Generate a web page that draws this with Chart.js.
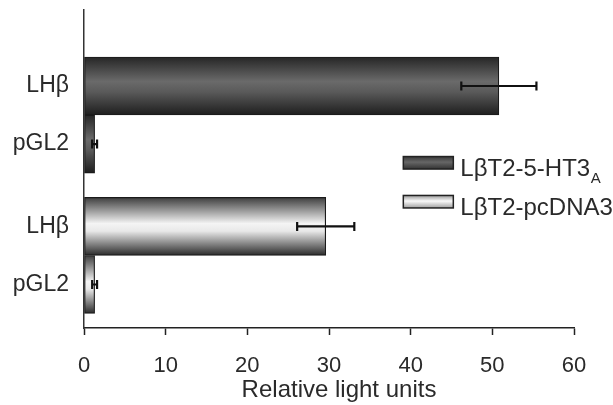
<!DOCTYPE html>
<html>
<head>
<meta charset="utf-8">
<script src="https://cdn.jsdelivr.net/npm/chart.js@4/dist/chart.umd.min.js"></script>
<style>
  html, body { margin: 0; padding: 0; background: #ffffff; }
  canvas { display: block; }
</style>
</head>
<body>
<canvas id="c" width="613" height="405"></canvas>
<script>
// ---- data ----
const categories   = ['LHβ', 'pGL2', 'LHβ', 'pGL2'];
const seriesNames  = ['LβT2-5-HT3', 'LβT2-pcDNA3'];
const seriesSubs   = ['A', ''];
const darkValues   = [50.8, 1.3];   // LβT2-5-HT3A : LHβ, pGL2
const darkErrors   = [4.6, 0.3];
const lightValues  = [29.6, 1.3];   // LβT2-pcDNA3 : LHβ, pGL2
const lightErrors  = [3.5, 0.3];
const xAxisTitle   = 'Relative light units';

// ---- layout helpers (not data) ----
const groupGap = 0.42;
const rowPos = categories.map((_, i) => i + (i >= 2 ? groupGap : 0));
const FONT = "'Liberation Sans', Arial, Helvetica, sans-serif";
const TEXT = '#2a2a2a';

function barGradient(ctx, kind) {
  const fallback = kind === 'dark' ? '#555' : '#ddd';
  const chart = ctx.chart;
  const ys = chart.scales && chart.scales.y;
  if (!ys || !ctx.parsed) return fallback;
  const c = ys.getPixelForValue(ctx.parsed.y);
  const half = Math.abs(ys.getPixelForValue(1) - ys.getPixelForValue(0)) / 2;
  if (!isFinite(c) || !isFinite(half) || half <= 0) return fallback;
  const g = chart.ctx.createLinearGradient(0, c - half, 0, c + half);
  if (kind === 'dark') {
    g.addColorStop(0, '#262626');
    g.addColorStop(0.42, '#6a6a6a');
    g.addColorStop(0.6, '#5a5a5a');
    g.addColorStop(1, '#1e1e1e');
  } else {
    g.addColorStop(0, '#3e3e3e');
    g.addColorStop(0.45, '#f4f4f4');
    g.addColorStop(0.58, '#e8e8e8');
    g.addColorStop(1, '#2a2a2a');
  }
  return g;
}

const errorBars = {
  id: 'errorBars',
  afterDatasetsDraw(chart) {
    const ctx = chart.ctx;
    const xs = chart.scales.x, ys = chart.scales.y;
    ctx.save();
    ctx.strokeStyle = '#111';
    ctx.lineWidth = 2.2;
    chart.data.datasets.forEach(ds => {
      ds.data.forEach((pt, i) => {
        const e = ds.errors[i];
        const y = ys.getPixelForValue(pt.y);
        const x1 = xs.getPixelForValue(pt.x - e);
        const x2 = xs.getPixelForValue(pt.x + e);
        const cap = 4.5;
        ctx.beginPath();
        ctx.moveTo(x1, y); ctx.lineTo(x2, y);
        ctx.moveTo(x1, y - cap); ctx.lineTo(x1, y + cap);
        ctx.moveTo(x2, y - cap); ctx.lineTo(x2, y + cap);
        ctx.stroke();
      });
    });
    ctx.restore();
  }
};

const axisTitle = {
  id: 'axisTitle',
  afterDraw(chart) {
    const ctx = chart.ctx;
    const xs = chart.scales.x;
    ctx.save();
    ctx.fillStyle = TEXT;
    ctx.font = '24px ' + FONT;
    ctx.textAlign = 'center';
    ctx.textBaseline = 'middle';
    ctx.fillText(xAxisTitle, (xs.left + xs.right) / 2 + 10, 390);
    ctx.restore();
  }
};

const insideLegend = {
  id: 'insideLegend',
  afterDraw(chart) {
    const ctx = chart.ctx;
    const xs = chart.scales.x;
    const boxX = xs.getPixelForValue(39.1);
    const boxW = 50, boxH = 12.5;
    const rows = [162.8, 201.7];
    ctx.save();
    chart.data.datasets.forEach((ds, i) => {
      const cy = rows[i];
      const g = ctx.createLinearGradient(0, cy - boxH / 2, 0, cy + boxH / 2);
      if (i === 0) {
        g.addColorStop(0, '#3a3a3a'); g.addColorStop(0.45, '#666'); g.addColorStop(1, '#333');
      } else {
        g.addColorStop(0, '#9a9a9a'); g.addColorStop(0.45, '#fafafa'); g.addColorStop(1, '#a0a0a0');
      }
      ctx.fillStyle = g;
      ctx.fillRect(boxX, cy - boxH / 2, boxW, boxH);
      ctx.strokeStyle = '#222';
      ctx.lineWidth = 1.5;
      ctx.strokeRect(boxX, cy - boxH / 2, boxW, boxH);
      ctx.fillStyle = TEXT;
      ctx.textBaseline = 'alphabetic';
      ctx.textAlign = 'left';
      ctx.font = '24px ' + FONT;
      const tx = boxX + boxW + 7;
      const ty = cy + 13.2;
      ctx.fillText(ds.label, tx, ty);
      if (ds.sub) {
        const w = ctx.measureText(ds.label).width;
        ctx.font = '15px ' + FONT;
        ctx.fillText(ds.sub, tx + w + 0.5, ty + 6.5);
      }
    });
    ctx.restore();
  }
};

function noScalePadding(s) {
  s.paddingTop = 0; s.paddingBottom = 0; s.paddingLeft = 0; s.paddingRight = 0;
}

new Chart(document.getElementById('c'), {
  type: 'bar',
  data: {
    datasets: [
      {
        label: seriesNames[0],
        sub: seriesSubs[0],
        data: darkValues.map((v, i) => ({ x: v, y: rowPos[i] })),
        errors: darkErrors,
        backgroundColor: ctx => barGradient(ctx, 'dark'),
        borderColor: '#1a1a1a',
        borderWidth: 1.2,
        borderSkipped: false
      },
      {
        label: seriesNames[1],
        sub: seriesSubs[1],
        data: lightValues.map((v, i) => ({ x: v, y: rowPos[i + 2] })),
        errors: lightErrors,
        backgroundColor: ctx => barGradient(ctx, 'light'),
        borderColor: '#1a1a1a',
        borderWidth: 1.2,
        borderSkipped: false
      }
    ]
  },
  options: {
    indexAxis: 'y',
    responsive: false,
    devicePixelRatio: 1,
    animation: false,
    events: [],
    grouped: false,
    barPercentage: 1,
    categoryPercentage: 1,
    layout: { padding: { top: 10, right: 39, left: 0, bottom: 0 } },
    plugins: {
      legend: { display: false },
      tooltip: { enabled: false }
    },
    scales: {
      x: {
        type: 'linear',
        min: 0, max: 60,
        offset: false,
        ticks: { stepSize: 10, color: TEXT, font: { family: FONT, size: 22 }, padding: 18 },
        grid: { offset: false, drawOnChartArea: false, drawTicks: true, tickLength: 7, tickColor: '#222', tickWidth: 1.5 },
        border: { display: true, color: '#222', width: 1.5 },
        title: { display: false },
        afterFit: s => { s.height = 77; noScalePadding(s); }
      },
      y: {
        type: 'linear',
        reverse: true,
        offset: false,
        min: -1.31, max: 4.17,
        afterBuildTicks: s => { s.ticks = rowPos.map(v => ({ value: v })); },
        ticks: { callback: (v, i) => categories[i], color: TEXT, font: { family: FONT, size: 23 }, padding: 15, autoSkip: false },
        grid: { offset: false, display: true, drawOnChartArea: false, drawTicks: false },
        border: { display: true, color: '#333', width: 1.5 },
        afterFit: s => { s.width = 84; noScalePadding(s); }
      }
    }
  },
  plugins: [errorBars, axisTitle, insideLegend]
});
</script>
</body>
</html>
